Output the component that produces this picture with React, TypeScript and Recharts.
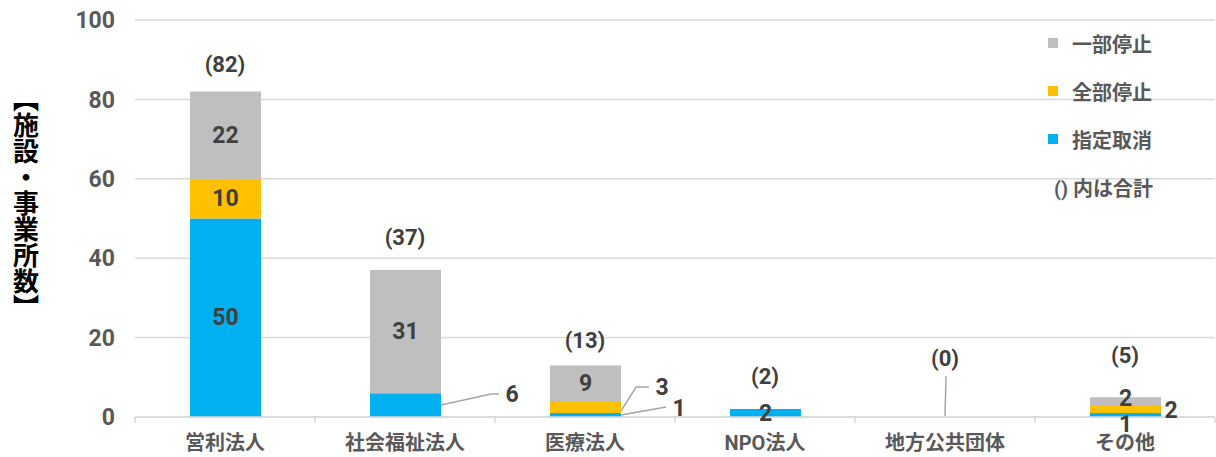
import { Bar, CartesianGrid, ComposedChart, LabelList, Legend, Line, XAxis, YAxis } from 'recharts'

const categories = ['営利法人', '社会福祉法人', '医療法人', 'NPO法人', '地方公共団体', 'その他']
const revoked = [50, 6, 1, 2, 0, 1] // 指定取消
const fullStop = [10, 0, 3, 0, 0, 2] // 全部停止
const partStop = [22, 31, 9, 0, 0, 2] // 一部停止
const yTicks = [0, 20, 40, 60, 80, 100]

const series = [
  { key: 'revoked', name: '指定取消', color: '#00B0F0' },
  { key: 'fullStop', name: '全部停止', color: '#FFC000' },
  { key: 'partStop', name: '一部停止', color: '#BFBFBF' },
]

const data = categories.map((name, i) => ({
  name,
  revoked: revoked[i],
  fullStop: fullStop[i],
  partStop: partStop[i],
  total: revoked[i] + fullStop[i] + partStop[i],
}))

const FONT = "Roboto, 'Noto Sans CJK JP', sans-serif"
const LEADER = '#A6A6A6'
const PLOT_LEFT = 135
const BAND = 180

// hand placed labels (Excel style), relative to bar right edge or centre, keyed by category
type Spot = { from: 'center' | 'right'; dx: number; dy: number; leader?: [number, number][] }
const spots: Record<string, Record<string, Spot>> = {
  revoked: {
    社会福祉法人: { from: 'right', dx: 71, dy: -11, leader: [[0, 0], [50, -11], [58, -11]] },
    医療法人: { from: 'right', dx: 58, dy: -7, leader: [[0, 0], [45, -8]] },
    その他: { from: 'center', dx: 0, dy: 9 },
  },
  fullStop: {
    医療法人: { from: 'right', dx: 41, dy: -20, leader: [[0, 4], [15, -20], [28, -20]] },
    その他: { from: 'right', dx: 10, dy: 1 },
  },
  partStop: {
    その他: { from: 'center', dx: 0, dy: -3 },
  },
}
const totalLift = [27, 33, 25, 33, 59, 42]

function box(props: any) {
  const vb = props.viewBox && props.viewBox.width !== undefined ? props.viewBox : props
  const y = Math.min(vb.y, vb.y + vb.height)
  return { x: vb.x, y, width: vb.width, height: Math.abs(vb.height) }
}

function categoryAt(cx: number) {
  const i = Math.round((cx - PLOT_LEFT - BAND / 2) / BAND)
  return categories[Math.max(0, Math.min(categories.length - 1, i))]
}

const makeLabel = (key: string) => (props: any) => {
  const { value } = props
  if (!value) return null
  const { x, y, width, height } = box(props)
  const cx = x + width / 2
  const cy = y + height / 2
  const cat = props.payload?.name ?? categoryAt(cx)
  const spot = spots[key]?.[cat]
  const ox = spot ? (spot.from === 'right' ? x + width : cx) : cx
  const tx = ox + (spot ? spot.dx : 0)
  const ty = cy + (spot ? spot.dy : 0)
  return (
    <g>
      {spot?.leader && (
        <polyline
          points={spot.leader.map(([a, b]) => `${ox + a},${cy + b}`).join(' ')}
          fill="none"
          stroke={LEADER}
          strokeWidth={1.5}
        />
      )}
      <text
        x={tx}
        y={ty}
        textAnchor="middle"
        dominantBaseline="central"
        fontFamily={FONT}
        fontSize={23}
        fontWeight={700}
        fill="#404040"
      >
        {value}
      </text>
    </g>
  )
}

const TotalLabel = (props: any) => {
  const { value, index } = props
  const vb = props.viewBox ?? props
  const cx = vb.x + (vb.width ?? 0) / 2
  const y = vb.y
  const lift = totalLift[index] ?? 30
  return (
    <g>
      {value === 0 && <line x1={cx} y1={y - 1} x2={cx + 1} y2={y - lift + 18} stroke={LEADER} strokeWidth={1.5} />}
      <text
        x={cx}
        y={y - lift}
        textAnchor="middle"
        dominantBaseline="central"
        fontFamily={FONT}
        fontSize={22}
        fontWeight={700}
        fill="#404040"
      >
        ({value})
      </text>
    </g>
  )
}

const CategoryTick = (props: any) => {
  const { x, y, payload, index } = props
  const half = BAND / 2
  return (
    <g>
      <line x1={x - half} y1={y} x2={x - half} y2={y + 6} stroke="#D9D9D9" strokeWidth={1.5} />
      {index === categories.length - 1 && (
        <line x1={x + half} y1={y} x2={x + half} y2={y + 6} stroke="#D9D9D9" strokeWidth={1.5} />
      )}
      <text
        x={x}
        y={y + 26}
        textAnchor="middle"
        dominantBaseline="central"
        fontFamily={FONT}
        fontSize={20}
        fontWeight={700}
        fill="#595959"
      >
        {payload.value}
      </text>
    </g>
  )
}

const YLabel = () => (
  <text
    x={26}
    y={86}
    style={{ writingMode: 'vertical-rl' }}
    fontFamily="'Noto Sans CJK JP', sans-serif"
    fontSize={26}
    fontWeight={700}
    fill="#000000"
  >
    【施設・事業所数】
  </text>
)

const LegendBox = () => (
  <div style={{ fontFamily: FONT, fontSize: 20, fontWeight: 700, color: '#595959' }}>
    {[...series].reverse().map((s) => (
      <div key={s.key} style={{ height: 48, display: 'flex', alignItems: 'center' }}>
        <span style={{ width: 10, height: 10, background: s.color, marginLeft: 8, marginRight: 14 }} />
        <span>{s.name}</span>
      </div>
    ))}
    <div style={{ height: 48, display: 'flex', alignItems: 'center', paddingLeft: 14 }}>() 内は合計</div>
  </div>
)

export default function App() {
  return (
    <div style={{ position: 'absolute', left: 0, top: 0, width: 1216, height: 457, background: '#fff' }}>
      <ComposedChart
        width={1216}
        height={457}
        data={data}
        margin={{ top: 20, right: 1, left: 0, bottom: 0 }}
        barSize={71}
      >
        <CartesianGrid vertical={false} stroke="#D9D9D9" strokeWidth={1.5} />
        <XAxis
          dataKey="name"
          height={40}
          axisLine={{ stroke: '#D9D9D9', strokeWidth: 1.5 }}
          tickLine={false}
          tickSize={0}
          tickMargin={0}
          interval={0}
          tick={<CategoryTick />}
        />
        <YAxis
          width={135}
          domain={[0, 100]}
          ticks={yTicks}
          axisLine={false}
          tickLine={false}
          tickMargin={14}
          tick={{ fill: '#595959', fontSize: 23, fontWeight: 700, fontFamily: FONT }}
          label={<YLabel />}
        />
        <Legend
          layout="vertical"
          align="center"
          verticalAlign="middle"
          content={<LegendBox />}
          wrapperStyle={{ position: 'absolute', left: 1040, top: 19, width: 176 }}
        />
        {series.map((s) => (
          <Bar key={s.key} dataKey={s.key} name={s.name} stackId="a" fill={s.color} isAnimationActive={false}>
            <LabelList dataKey={s.key} content={makeLabel(s.key)} />
          </Bar>
        ))}
        <Line
          dataKey="total"
          stroke="none"
          dot={false}
          activeDot={false}
          legendType="none"
          isAnimationActive={false}
        >
          <LabelList dataKey="total" content={<TotalLabel />} />
        </Line>
      </ComposedChart>
    </div>
  )
}
